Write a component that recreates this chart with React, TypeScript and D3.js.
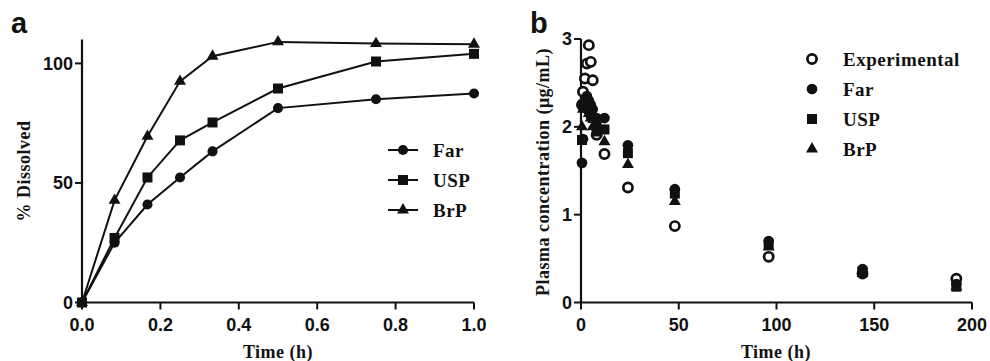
import React, { useEffect, useRef } from 'react';
import * as d3 from 'd3';

// panel a: dissolution
const dissTimes = [0, 0.083, 0.167, 0.25, 0.333, 0.5, 0.75, 1.0];
const dissFar = [0, 25, 41, 52.3, 63.2, 81.3, 85, 87.4];
const dissUSP = [0, 27, 52.3, 67.8, 75.3, 89.5, 100.8, 104];
const dissBrP = [0, 42.7, 69.5, 92.5, 103, 109, 108.3, 108];
const aXTicks = [0, 0.2, 0.4, 0.6, 0.8, 1.0];
const aYTicks = [0, 50, 100];

// panel b: plasma concentration
const pkTimes = [0.5, 1, 2, 3, 4, 5, 6, 8, 12, 24, 48, 96, 144, 192];
const pkExp = [2.25, 2.4, 2.55, 2.72, 2.93, 2.74, 2.53, 1.91, 1.69, 1.31, 0.87, 0.52, 0.33, 0.27];
const pkFar = [1.59, 1.86, 2.3, 2.35, 2.3, 2.25, 2.2, 2.1, 2.1, 1.79, 1.29, 0.7, 0.38, 0.21];
const pkUSP = [1.85, 2.25, 2.3, 2.28, 2.2, 2.15, 2.1, 2.0, 1.97, 1.7, 1.24, 0.66, 0.35, 0.18];
const pkBrP = [2.0, 2.2, 2.25, 2.2, 2.15, 2.1, 2.0, 1.93, 1.83, 1.57, 1.15, 0.63, 0.33, 0.18];
const bXTicks = [0, 50, 100, 150, 200];
const bYTicks = [0, 1, 2, 3];

const ink = "#111";
const sansBold = "'Liberation Sans', Arial, sans-serif";
const serifBold = "'Liberation Serif', 'Times New Roman', serif";

export default function App() {
  const svgRef = useRef<SVGSVGElement>(null);
  const width = 990;
  const height = 361;

  useEffect(() => {
    document.body.style.margin = "0";
    if (!svgRef.current) return;
    const svg = d3.select(svgRef.current);
    svg.selectAll("*").remove();

    svg.append("rect").attr("width", width).attr("height", height).attr("fill", "#fff");

    const sym = (type: d3.SymbolType, size: number) => d3.symbol().type(type).size(size)();

    const drawAxes = (
      x: d3.ScaleLinear<number, number>,
      y: d3.ScaleLinear<number, number>,
      xTicks: number[], yTicks: number[], xFmt: (d: number) => string
    ) => {
      const [x0, x1] = x.range();
      const [y0, y1] = y.range();
      const g = svg.append("g");
      g.append("line").attr("x1", x0).attr("x2", x0).attr("y1", y0).attr("y2", y1)
        .attr("stroke", ink).attr("stroke-width", 2.2);
      g.append("line").attr("x1", x0).attr("x2", x1).attr("y1", y0).attr("y2", y0)
        .attr("stroke", ink).attr("stroke-width", 2.2);
      xTicks.forEach(t => {
        g.append("line").attr("x1", x(t)).attr("x2", x(t)).attr("y1", y0).attr("y2", y0 + 7)
          .attr("stroke", ink).attr("stroke-width", 2);
        g.append("text").attr("x", x(t)).attr("y", y0 + 28).attr("text-anchor", "middle")
          .attr("font-family", sansBold).attr("font-weight", "bold").attr("font-size", "18px")
          .attr("fill", ink).text(xFmt(t));
      });
      yTicks.forEach(t => {
        g.append("line").attr("x1", x0 - 7).attr("x2", x0).attr("y1", y(t)).attr("y2", y(t))
          .attr("stroke", ink).attr("stroke-width", 2);
        g.append("text").attr("x", x0 - 9).attr("y", y(t)).attr("dy", "0.36em").attr("text-anchor", "end")
          .attr("font-family", sansBold).attr("font-weight", "bold").attr("font-size", "18px")
          .attr("fill", ink).text(String(t));
      });
    };

    const axisTitles = (cx: number, cy: number, xTitle: string, yx: number, yTitle: string) => {
      svg.append("text").attr("x", cx).attr("y", 358).attr("text-anchor", "middle")
        .attr("font-family", serifBold).attr("font-weight", "bold").attr("font-size", "18px")
        .attr("letter-spacing", "0.5px").attr("fill", ink).text(xTitle);
      svg.append("g").attr("opacity", 0.99)
        .append("text").attr("transform", `translate(${yx},${cy}) rotate(-90)`).attr("text-anchor", "middle")
        .attr("font-family", serifBold).attr("font-weight", "bold").attr("font-size", "18px")
        .attr("letter-spacing", "0.5px").attr("fill", ink).text(yTitle);
    };

    // ---------- panel a ----------
    const xa = d3.scaleLinear().domain([0, 1]).range([82, 474]);
    const ya = d3.scaleLinear().domain([0, 110]).range([302.5, 39.5]);
    drawAxes(xa, ya, aXTicks, aYTicks, d => d3.format(".1f")(d));
    axisTitles(278, 171, "Time (h)", 30, "% Dissolved");
    svg.append("text").attr("x", 11).attr("y", 33).attr("font-family", sansBold).attr("font-weight", "bold")
      .attr("font-size", "29px").attr("fill", ink).text("a");

    const seriesA = [
      { name: "Far", vals: dissFar, type: d3.symbolCircle, size: 80 },
      { name: "USP", vals: dissUSP, type: d3.symbolSquare, size: 100 },
      { name: "BrP", vals: dissBrP, type: d3.symbolTriangle, size: 62 },
    ];
    const lineA = d3.line<number>().x((_, i) => xa(dissTimes[i])).y(v => ya(v));
    seriesA.forEach(s => {
      svg.append("path").attr("d", lineA(s.vals)!).attr("fill", "none").attr("stroke", ink).attr("stroke-width", 2);
      svg.append("g").selectAll("path").data(s.vals).enter().append("path")
        .attr("d", sym(s.type, s.size)!)
        .attr("transform", (v, i) => `translate(${xa(dissTimes[i])},${ya(v)})`)
        .attr("fill", ink);
    });
    seriesA.forEach((s, i) => {
      const ly = 150 + i * 30;
      svg.append("line").attr("x1", 388).attr("x2", 418).attr("y1", ly).attr("y2", ly)
        .attr("stroke", ink).attr("stroke-width", 2);
      svg.append("path").attr("d", sym(s.type, s.size)!).attr("transform", `translate(403,${ly})`).attr("fill", ink);
      svg.append("text").attr("x", 433).attr("y", ly).attr("dy", "0.35em")
        .attr("font-family", serifBold).attr("font-weight", "bold").attr("font-size", "19px")
        .attr("letter-spacing", "0.5px").attr("fill", ink).text(s.name);
    });

    // ---------- panel b ----------
    const xb = d3.scaleLinear().domain([0, 200]).range([581, 972]);
    const yb = d3.scaleLinear().domain([0, 3]).range([302.5, 39]);
    drawAxes(xb, yb, bXTicks, bYTicks, d => String(d));
    axisTitles(776, 172, "Time (h)", 549, "Plasma concentration (μg/mL)");
    svg.append("text").attr("x", 530).attr("y", 33).attr("font-family", sansBold).attr("font-weight", "bold")
      .attr("font-size", "29px").attr("fill", ink).text("b");

    const seriesB = [
      { name: "Experimental", vals: pkExp, type: d3.symbolCircle, size: 0, open: true },
      { name: "Far", vals: pkFar, type: d3.symbolCircle, size: 90, open: false },
      { name: "USP", vals: pkUSP, type: d3.symbolSquare, size: 100, open: false },
      { name: "BrP", vals: pkBrP, type: d3.symbolTriangle, size: 62, open: false },
    ];
    seriesB.forEach(s => {
      const g = svg.append("g");
      if (s.open) {
        g.selectAll("circle").data(s.vals).enter().append("circle")
          .attr("cx", (_, i) => xb(pkTimes[i])).attr("cy", v => yb(v)).attr("r", 4.6)
          .attr("fill", "#fff").attr("stroke", ink).attr("stroke-width", 2.7);
      } else {
        g.selectAll("path").data(s.vals).enter().append("path")
          .attr("d", sym(s.type, s.size)!)
          .attr("transform", (v, i) => `translate(${xb(pkTimes[i])},${yb(v)})`)
          .attr("fill", ink);
      }
    });
    seriesB.forEach((s, i) => {
      const ly = 59 + i * 30;
      if (s.open) {
        svg.append("circle").attr("cx", 812).attr("cy", ly).attr("r", 4.6)
          .attr("fill", "#fff").attr("stroke", ink).attr("stroke-width", 2.7);
      } else {
        svg.append("path").attr("d", sym(s.type, s.size)!).attr("transform", `translate(812,${ly})`).attr("fill", ink);
      }
      svg.append("text").attr("x", 843).attr("y", ly).attr("dy", "0.35em")
        .attr("font-family", serifBold).attr("font-weight", "bold").attr("font-size", "19px")
        .attr("letter-spacing", "0.5px").attr("fill", ink).text(s.name);
    });
  }, []);

  return <svg ref={svgRef} width={width} height={height} viewBox={`0 0 ${width} ${height}`} style={{ display: "block" }} />;
}
